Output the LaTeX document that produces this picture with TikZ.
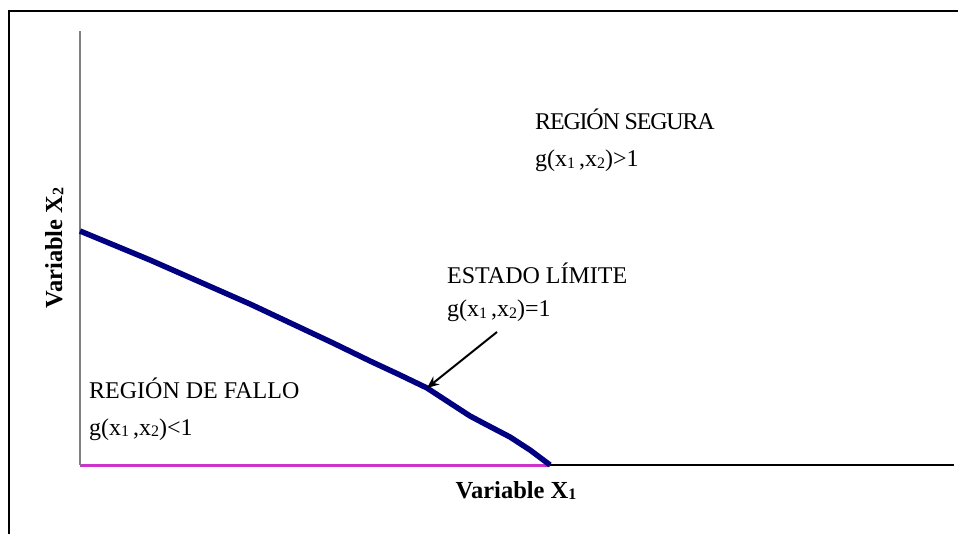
\documentclass[tikz,border=0pt]{standalone}
\usepackage{fontspec}
\setmainfont{Liberation Serif}
\usetikzlibrary{arrows.meta,positioning,calc}
\definecolor{limnavy}{RGB}{0,0,128}
\definecolor{failmag}{RGB}{204,51,204}
\definecolor{axgray}{RGB}{128,128,128}
\tikzset{
  lbl/.style    ={anchor=base west, inner sep=0pt,
                  font=\fontsize{24}{28}\selectfont},
  axlbl/.style  ={inner sep=0pt, font=\fontsize{24.5}{28}\selectfont\bfseries},
  frameln/.style={line width=2.5pt, black},
  yax/.style    ={line width=2pt, axgray},
  xax/.style    ={line width=1.5pt, black},
  failax/.style ={line width=3pt, failmag},
  limcurve/.style={line width=5.5pt, limnavy, line join=round},
  arr/.style    ={-{Stealth[length=12pt,width=10pt]}, line width=2pt},
}
\newcommand{\ix}[1]{\raisebox{-0.06em}{\fontsize{16}{16}\selectfont #1}}

\begin{document}
\begin{tikzpicture}[x=1pt,y=-1pt]
  \useasboundingbox[fill=white] (0,0) rectangle (958,534);
  % frame
  \draw[frameln] (9,534) -- (9,11) -- (958,11);
  % axes
  \coordinate (origin) at (80,465);
  \coordinate (ytop) at (80,31);
  \coordinate (xend) at (954,465);
  \coordinate (xcut) at (550,465);
  \draw[xax] (origin) -- (xend);
  \draw[failax] (origin) -- (xcut);
  \draw[yax] (origin) -- (ytop);
  % limit state
  \coordinate (lim) at (427,388);
  \draw[limcurve] (80,231) -- (150,260) -- (250,304) -- (333,343)
    -- (370,361) -- (400,375) -- (lim) -- (450,403) -- (470,416)
    -- (487,425) -- (510,437) -- (530,450) -- (xcut);
  % labels
  \node[lbl] (segura) at (535,130)
    {\addfontfeature{LetterSpace=-5}REGIÓN SEGURA};
  \node[lbl] (gsegura) at ([yshift=-37pt]segura.base west)
    {g(x\ix{1}\,,x\ix{2})>1};
  \node[lbl] (estado) at (447,284) {ESTADO LÍMITE};
  \node[lbl] (gestado) at ([yshift=-33pt]estado.base west)
    {g(x\ix{1}\,,x\ix{2})=1};
  \node[lbl] (fallo) at (89,398) {REGIÓN DE FALLO};
  \node[lbl] (gfallo) at ([yshift=-37pt]fallo.base west)
    {g(x\ix{1}\,,x\ix{2})<1};
  \coordinate (atail) at (497,332);
  \draw[arr] (atail) -- (lim);
  \node[axlbl, anchor=base] (xlab) at (516,498) {Variable X\ix{1}};
  \node[axlbl, anchor=base, rotate=90] (ylab) at (62,248) {Variable X\ix{2}};
\end{tikzpicture}
\end{document}
